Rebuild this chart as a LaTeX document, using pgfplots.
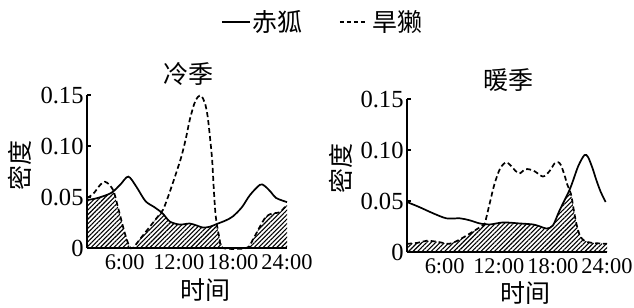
\documentclass[border=0pt]{standalone}
\usepackage{pgfplots}
\pgfplotsset{compat=1.18}
\usepackage{fontspec}
\setmainfont{Liberation Serif}
\newfontfamily\cjk{Noto Sans CJK SC}
\usetikzlibrary{patterns.meta}

\pgfplotstableread{
h y
1.82 0.047
3.0 0.049
4.5 0.054
5.5 0.062
6.4 0.070
7.3 0.060
8.3 0.046
9.3 0.040
10.2 0.034
11.0 0.026
12.1 0.023
13.2 0.024
14.0 0.022
14.7 0.020
15.5 0.021
16.2 0.0235
17.2 0.027
18.0 0.031
19.0 0.040
19.9 0.052
21.0 0.062
21.5 0.061
22.2 0.055
22.8 0.049
24.0 0.045
}\coldfox

\pgfplotstableread{
h y
1.82 0.049
2.5 0.053
3.3 0.062
3.8 0.065
4.3 0.062
4.8 0.055
5.4 0.035
6.0 0.015
6.5 0.002
6.9 0.0
7.9 0.011
8.8 0.021
9.6 0.030
10.25 0.0375
10.8 0.050
11.35 0.064
11.8 0.076
12.3 0.090
12.8 0.108
13.2 0.125
13.7 0.141
14.1 0.148
14.5 0.149
14.9 0.142
15.2 0.129
15.5 0.105
15.7 0.086
15.9 0.055
16.1 0.031
16.5 0.010
16.9 0.0
19.5 0.0
20.2 0.008
21.0 0.021
21.7 0.031
22.45 0.034
23.2 0.035
23.85 0.041
24.0 0.042
}\coldmarmot

\pgfplotstableread{
h y
1.82 0.047
3.0 0.049
4.5 0.054
4.8 0.055
5.4 0.035
6.0 0.015
6.5 0.002
6.9 0.0
7.9 0.011
8.8 0.021
9.6 0.030
10.0 0.035
10.2 0.034
11.0 0.026
12.1 0.023
13.2 0.024
14.0 0.022
14.7 0.020
15.5 0.021
16.2 0.0235
16.5 0.010
16.9 0.0
19.5 0.0
20.2 0.008
21.0 0.021
21.7 0.031
22.45 0.034
23.2 0.035
23.85 0.041
24.0 0.042
}\coldboth

\pgfplotstableread{
h y
1.82 0.049
3.2 0.044
4.7 0.038
6.2 0.033
7.7 0.033
8.8 0.031
9.9 0.028
11.0 0.027
12.5 0.029
14.3 0.028
15.8 0.027
16.6 0.025
17.3 0.023
18.0 0.026
18.75 0.041
19.9 0.062
20.8 0.084
21.5 0.095
21.9 0.093
22.4 0.082
22.8 0.071
23.3 0.059
23.85 0.049
}\warmfox

\pgfplotstableread{
h y
1.82 0.008
3.0 0.009
4.0 0.011
5.2 0.010
6.5 0.008
7.4 0.011
8.4 0.016
9.5 0.022
10.2 0.026
10.45 0.028
11.0 0.048
11.5 0.066
12.0 0.079
12.3 0.084
12.8 0.088
13.3 0.085
13.8 0.080
14.3 0.077
14.9 0.081
15.4 0.081
16.0 0.079
16.9 0.074
17.6 0.079
18.2 0.087
18.6 0.088
18.9 0.085
19.3 0.075
19.6 0.066
20.0 0.057
20.3 0.042
20.6 0.028
21.0 0.016
21.5 0.011
22.3 0.009
24.0 0.008
}\warmmarmot

\pgfplotstableread{
h y
1.82 0.008
3.0 0.009
4.0 0.011
5.2 0.010
6.5 0.008
7.4 0.011
8.4 0.016
9.5 0.022
10.2 0.026
10.4 0.0275
11.0 0.027
12.5 0.029
14.3 0.028
15.8 0.027
16.6 0.025
17.3 0.023
18.0 0.026
18.75 0.041
19.9 0.061
20.0 0.057
20.3 0.042
20.6 0.028
21.0 0.016
21.5 0.011
22.3 0.009
24.0 0.008
}\warmboth

\pgfplotsset{myax/.style={
  scale only axis, width=100pt, height=76.5pt,
  xmin=1.82, xmax=24, ymin=0, ymax=0.15,
  axis x line=bottom, axis y line=left,
  axis line style={-, line width=0.8pt},
  xtick={6,12,18,24}, xticklabels={6:00,12:00,18:00,24:00},
  ytick={0,0.05,0.1,0.15}, yticklabels={0,0.05,0.10,0.15},
  x tick style={draw=none}, y tick style={line width=0.8pt, black},
  major tick length=2pt, tick align=inside, clip=false,
  yticklabel style={inner sep=1.5pt, font=\fontsize{12.3}{14}\selectfont},
  xticklabel style={inner sep=3pt, font=\fontsize{11.2}{13}\selectfont},
  fox/.style={black, line width=0.85pt, smooth, tension=0.5},
  marmot/.style={black, line width=0.85pt, smooth, tension=0.5, dash pattern=on 2.5pt off 1.5pt},
  both/.style={draw=none, pattern={Lines[angle=45,distance=1.6pt,line width=0.55pt]}},
}}

\begin{document}
\begin{tikzpicture}
\useasboundingbox (0,0) rectangle (317pt,153.5pt);
\begin{axis}[myax, at={(43.5pt,29.5pt)}, anchor=south west]
\addplot[both] table[x=h,y=y] {\coldboth} \closedcycle;
\addplot[fox] table[x=h,y=y] {\coldfox};
\addplot[marmot] table[x=h,y=y] {\coldmarmot};
\end{axis}
\begin{axis}[myax, at={(203.5pt,27.5pt)}, anchor=south west]
\addplot[both] table[x=h,y=y] {\warmboth} \closedcycle;
\addplot[fox] table[x=h,y=y] {\warmfox};
\addplot[marmot] table[x=h,y=y] {\warmmarmot};
\end{axis}
% titles and labels
\node[font=\cjk\fontsize{12.5}{14}\selectfont] at (94pt,116.5pt) {冷季};
\node[font=\cjk\fontsize{12.5}{14}\selectfont] at (254.5pt,113.3pt) {暖季};
\node[font=\cjk\fontsize{12.5}{14}\selectfont, rotate=90] at (10pt,71pt) {密度};
\node[font=\cjk\fontsize{12.5}{14}\selectfont, rotate=90] at (170.5pt,69.5pt) {密度};
\node[font=\cjk\fontsize{12.5}{14}\selectfont] at (103pt,8.5pt) {时间};
\node[font=\cjk\fontsize{12.5}{14}\selectfont] at (263pt,7pt) {时间};
% legend
\draw[line width=0.8pt] (111pt,142.5pt) -- (125pt,142.5pt);
\node[font=\cjk\fontsize{12.5}{14}\selectfont, anchor=west, inner sep=0pt] at (126pt,142.5pt) {赤狐};
\draw[line width=0.8pt, dash pattern=on 2pt off 1.5pt] (170pt,142.5pt) -- (184pt,142.5pt);
\node[font=\cjk\fontsize{12.5}{14}\selectfont, anchor=west, inner sep=0pt] at (186pt,142.5pt) {旱獭};
\end{tikzpicture}
\end{document}
